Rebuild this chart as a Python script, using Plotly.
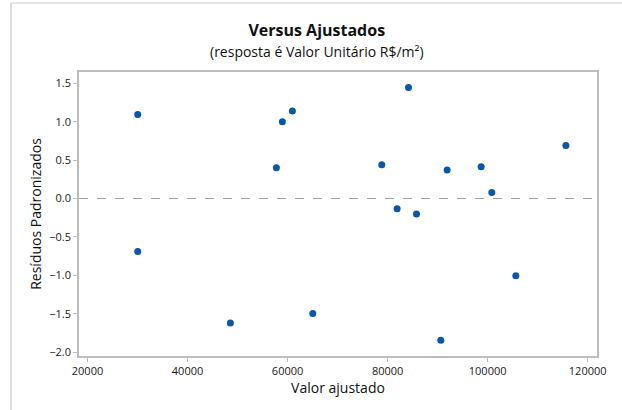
import plotly.graph_objects as go

fitted = [30040, 30040, 48560, 57760, 58960, 60960, 65040, 78830, 81900,
          84170, 85770, 90630, 91900, 98700, 100830, 105630, 115640]
residuals = [1.094, -0.69, -1.62, 0.40, 0.999, 1.138, -1.497, 0.439, -0.134,
             1.445, -0.203, -1.844, 0.37, 0.413, 0.078, -1.006, 0.69]

x_ticks = [20000, 40000, 60000, 80000, 100000, 120000]
y_ticks = [-2.0, -1.5, -1.0, -0.5, 0.0, 0.5, 1.0, 1.5]

FONT = "Open Sans"
L, R, T, B = 79, 597, 72, 356
W, H = 622, 410
pw, ph = R - L, B - T

fig = go.Figure()
fig.add_trace(go.Scatter(
    x=fitted, y=residuals, mode="markers",
    marker=dict(color="#0A56A8", size=7, line=dict(width=0)),
    showlegend=False, hoverinfo="x+y"))

axis_common = dict(showgrid=False, zeroline=False, showline=True,
                   linecolor="#BDBDBD", linewidth=1.5, mirror=True,
                   ticks="outside", ticklen=4, tickcolor="#BDBDBD",
                   tickfont=dict(family=FONT, size=11, color="#1a1a1a"))

fig.update_layout(
    width=W, height=H,
    margin=dict(l=L, r=W - R, t=T, b=H - B, pad=0),
    paper_bgcolor="white", plot_bgcolor="white",
    xaxis=dict(range=[18300, 121860], tickvals=x_ticks, tickformat="d",
               title=dict(text="Valor ajustado", font=dict(family=FONT, size=14, color="#111"), standoff=6),
               **axis_common),
    yaxis=dict(range=[-2.05, 1.647], tickvals=y_ticks, tickformat=".1f",
               title=dict(text="Resíduos Padronizados", font=dict(family=FONT, size=14, color="#111"), standoff=4),
               **axis_common),
    font=dict(family=FONT),
)

# reference line at zero
fig.add_shape(type="line", xref="paper", yref="y", x0=0, x1=1, y0=0, y1=0,
              line=dict(color="#A0A0A0", width=1.2, dash="dash"))

# outer frame lines (left and top)
fx = (11 - L) / pw
fy_top = 1 + (T - 3) / ph
fy_bot = -(H - B + 5) / ph
fx_right = (W - L + 5) / pw
fig.add_shape(type="line", xref="paper", yref="paper", x0=fx, x1=fx, y0=fy_bot, y1=fy_top,
              line=dict(color="#C8C8C8", width=1.2))
fig.add_shape(type="line", xref="paper", yref="paper", x0=fx, x1=fx_right, y0=fy_top, y1=fy_top,
              line=dict(color="#C8C8C8", width=1.2))

cx = (317 - L) / pw
fig.add_annotation(
    text="<b>Versus Ajustados</b><br><span style='font-size:14px'>(resposta é Valor Unitário R$/m²)</span>",
    xref="paper", yref="paper", x=cx, y=1 + (T - 40) / ph, showarrow=False,
    xanchor="center", yanchor="middle", align="center",
    font=dict(family=FONT, size=16, color="#111"))

fig.write_html("out.html", config={"displayModeBar": False},
               post_script="document.body.style.margin='0';")
